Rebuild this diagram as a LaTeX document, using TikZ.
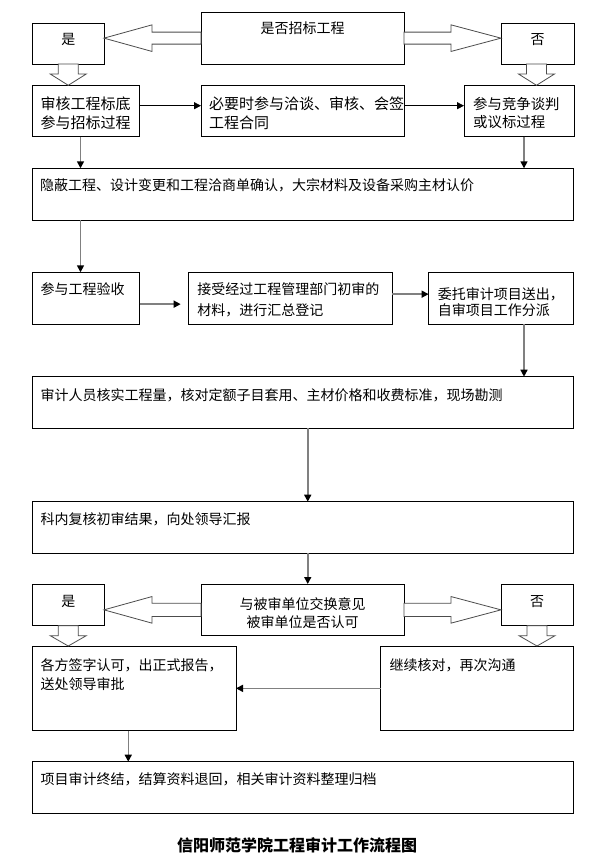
\documentclass[tikz,border=0pt]{standalone}
\usepackage{fontspec}
\newfontfamily\cjk{Noto Sans CJK SC}
\usetikzlibrary{arrows.meta,calc}
\begin{document}
\begin{tikzpicture}[x=1pt,y=-1pt,
  box/.style={draw=black, line width=0.8pt, fill=white, inner sep=0pt, outer sep=0pt, anchor=north west},
  txt/.style={inner sep=0pt, anchor=north west, align=left, font=\cjk\fontsize{14}{18.4}\selectfont},
  ctxt/.style={inner sep=0pt, anchor=north, align=center, font=\cjk\fontsize{14}{18.4}\selectfont},
  conn/.style={draw=black!50, line width=1.5pt, -{Triangle[length=7pt,width=7pt,color=black]}},
  connb/.style={draw=black, line width=0.8pt, -{Triangle[length=7pt,width=7pt,color=black]}},
  blk/.style={draw=black!70, line width=0.8pt, fill=white, line join=miter}
]
\useasboundingbox (0,0) rectangle (600,864);

% ---------- boxes ----------
\node[box, minimum width=203pt, minimum height=51.7pt] (q) at (201,12.3) {};
\node[box, minimum width=71.5pt, minimum height=40.7pt] (yes) at (32.5,23.3) {};
\node[box, minimum width=73pt, minimum height=40.7pt] (no) at (501,23.3) {};
\node[box, minimum width=107.2pt, minimum height=51.4pt] (A) at (32.5,85.3) {};
\node[box, minimum width=203pt, minimum height=51.4pt] (B) at (201,85.3) {};
\node[box, minimum width=110pt, minimum height=51.4pt] (C) at (464,85.3) {};
\node[box, minimum width=540.5pt, minimum height=51.7pt] (W) at (32.5,168.3) {};
\node[box, minimum width=107.2pt, minimum height=51.7pt] (D) at (32.5,272.3) {};
\node[box, minimum width=203.3pt, minimum height=51.7pt] (E) at (188.7,272.3) {};
\node[box, minimum width=144.4pt, minimum height=51.7pt] (F) at (428.6,272.3) {};
\node[box, minimum width=540.5pt, minimum height=51.6pt] (G) at (32.5,376.7) {};
\node[box, minimum width=540.5pt, minimum height=51.6pt] (H) at (32.5,501.7) {};
\node[box, minimum width=203pt, minimum height=51.7pt] (q2) at (201,584) {};
\node[box, minimum width=71.5pt, minimum height=41.7pt] (yes2) at (32.5,584) {};
\node[box, minimum width=72pt, minimum height=41.7pt] (no2) at (501,584) {};
\node[box, minimum width=203.5pt, minimum height=84.7pt] (J) at (32.5,646) {};
\node[box, minimum width=192.2pt, minimum height=84.7pt] (K) at (380.8,646) {};
\node[box, minimum width=540.5pt, minimum height=51.6pt] (L) at (32.5,761.7) {};

% ---------- texts ----------
\node[ctxt] (qt) at ($(q.north)+(0,9.7)$) {是否招标工程};
\node[ctxt] (yest) at ($(yes.north)+(0,9.7)$) {是};
\node[ctxt] (not) at ($(no.north)+(0,9.7)$) {否};
\node[txt, font=\cjk\fontsize{15}{18.4}\selectfont] (At) at ($(A.north west)+(8,11.7)$) {审核工程标底\\参与招标过程};
\node[txt, font=\cjk\fontsize{15}{18.4}\selectfont] (Bt) at ($(B.north west)+(8,11.7)$) {必要时参与洽谈、审核、会签\\工程合同};
\node[txt, font=\cjk\fontsize{14.4}{18.4}\selectfont] (Ct) at ($(C.north west)+(9,11.7)$) {参与竞争谈判\\或议标过程};
\node[txt] (Wt) at ($(W.north west)+(7.5,10.4)$) {隐蔽工程、设计变更和工程洽商单确认，大宗材料及设备采购主材认价};
\node[txt] (Dt) at ($(D.north west)+(8,9.7)$) {参与工程验收};
\node[txt, font=\cjk\fontsize{14}{21.7}\selectfont] (Et) at ($(E.north west)+(8.5,9.7)$) {接受经过工程管理部门初审的\\材料，进行汇总登记};
\node[txt, font=\cjk\fontsize{14}{16.5}\selectfont] (Ft) at ($(F.north west)+(9,15)$) {委托审计项目送出，\\自审项目工作分派};
\node[txt] (Gt) at ($(G.north west)+(8,12)$) {审计人员核实工程量，核对定额子目套用、主材价格和收费标准，现场勘测};
\node[txt] (Ht) at ($(H.north west)+(8,10.3)$) {科内复核初审结果，向处领导汇报};
\node[ctxt] (q2t) at ($(q2.north)+(0,13)$) {与被审单位交换意见\\被审单位是否认可};
\node[ctxt] (yes2t) at ($(yes2.north)+(0,11.4)$) {是};
\node[ctxt] (no2t) at ($(no2.north)+(0,11.4)$) {否};
\node[txt] (Jt) at ($(J.north west)+(8,12.7)$) {各方签字认可，出正式报告，\\送处领导审批};
\node[txt] (Kt) at ($(K.north west)+(8.5,12.7)$) {继续核对，再次沟通};
\node[txt] (Lt) at ($(L.north west)+(8,10.3)$) {项目审计终结，结算资料退回，相关审计资料整理归档};
\node[inner sep=0pt, font=\cjk\bfseries\fontsize{16}{16}\selectfont] (title) at (297,845.7) {信阳师范学院工程审计工作流程图};

% ---------- block arrows, first decision ----------
\coordinate (t1) at (yes.east |- q.center);
\draw[blk] (t1) -- ++(48,-13.3) -- ++(0,7.3) -- ($(q.west)+(0,-6)$) -- ($(q.west)+(0,6)$) -- ($(t1)+(48,6)$) -- ++(0,7.3) -- cycle;
\coordinate (t2) at (no.west |- q.center);
\draw[blk] (t2) -- ++(-50,-13.3) -- ++(0,7.3) -- ($(q.east)+(0,-6)$) -- ($(q.east)+(0,6)$) -- ($(t2)+(-50,6)$) -- ++(0,7.3) -- cycle;
\coordinate (t3) at (yes.south |- A.north);
\draw[blk] (t3) -- ++(-18,-11.3) -- ++(8,0) -- ($(yes.south)+(-10,0)$) -- ($(yes.south)+(10,0)$) -- ($(t3)+(10,-11.3)$) -- ++(8,0) -- cycle;
\coordinate (t4) at ([xshift=-1pt]no.south |- C.north);
\draw[blk] (t4) -- ++(-18,-11.3) -- ++(8,0) -- ($(no.south)+(-11,0)$) -- ($(no.south)+(9,0)$) -- ($(t4)+(10,-11.3)$) -- ++(8,0) -- cycle;

% ---------- block arrows, second decision ----------
\coordinate (s1) at (yes2.east |- q2.center);
\draw[blk] (s1) -- ++(48,-13.3) -- ++(0,6.6) -- ($(q2.west)+(0,-6.7)$) -- ($(q2.west)+(0,6.7)$) -- ($(s1)+(48,6.7)$) -- ++(0,6.6) -- cycle;
\coordinate (s2) at (no2.west |- q2.center);
\draw[blk] (s2) -- ++(-50,-13.3) -- ++(0,6.6) -- ($(q2.east)+(0,-6.7)$) -- ($(q2.east)+(0,6.7)$) -- ($(s2)+(-50,6.7)$) -- ++(0,6.6) -- cycle;
\coordinate (s3) at (yes2.south |- J.north);
\draw[blk] (s3) -- ++(-18,-10.3) -- ++(8,0) -- ($(yes2.south)+(-10,0)$) -- ($(yes2.south)+(10,0)$) -- ($(s3)+(10,-10.3)$) -- ++(8,0) -- cycle;
\coordinate (s4) at (no2.south |- K.north);
\draw[blk] (s4) -- ++(-18,-10.3) -- ++(8,0) -- ($(no2.south)+(-10,0)$) -- ($(no2.south)+(10,0)$) -- ($(s4)+(10,-10.3)$) -- ++(8,0) -- cycle;

% ---------- connectors ----------
\coordinate (a2) at ([yshift=5.3pt]A.east);
\draw[connb] (a2) -- (a2 -| B.west);
\coordinate (b2) at ([yshift=5.3pt]B.east);
\draw[connb] (b2) -- (b2 -| C.west);
\coordinate (a1) at ([xshift=48pt]A.south west);
\draw[conn] (a1) -- (a1 |- W.north);
\coordinate (c1) at ([xshift=60pt]C.south west);
\draw[conn] (c1) -- (c1 |- W.north);
\coordinate (w1) at ([xshift=48pt]W.south west);
\draw[conn] (w1) -- (w1 |- D.north);
\coordinate (d1) at ([yshift=-6pt]D.east);
\draw[conn, shorten >=8pt] (d1) -- (d1 -| E.west);
\coordinate (e1) at ([yshift=4pt]E.east);
\draw[conn] (e1) -- (e1 -| F.west);
\coordinate (f1) at ([xshift=95.4pt]F.south west);
\draw[conn] (f1) -- (f1 |- G.north);
\coordinate (g1) at ([xshift=5pt]G.south);
\draw[conn] (g1) -- (g1 |- H.north);
\coordinate (h1) at ([xshift=5pt]H.south);
\draw[conn] (h1) -- (h1 |- q2.north);
\draw[conn] (K.west) -- (J.east);
\coordinate (j1) at ([xshift=-6pt]J.south);
\draw[conn] (j1) -- (j1 |- L.north);
\end{tikzpicture}
\end{document}
